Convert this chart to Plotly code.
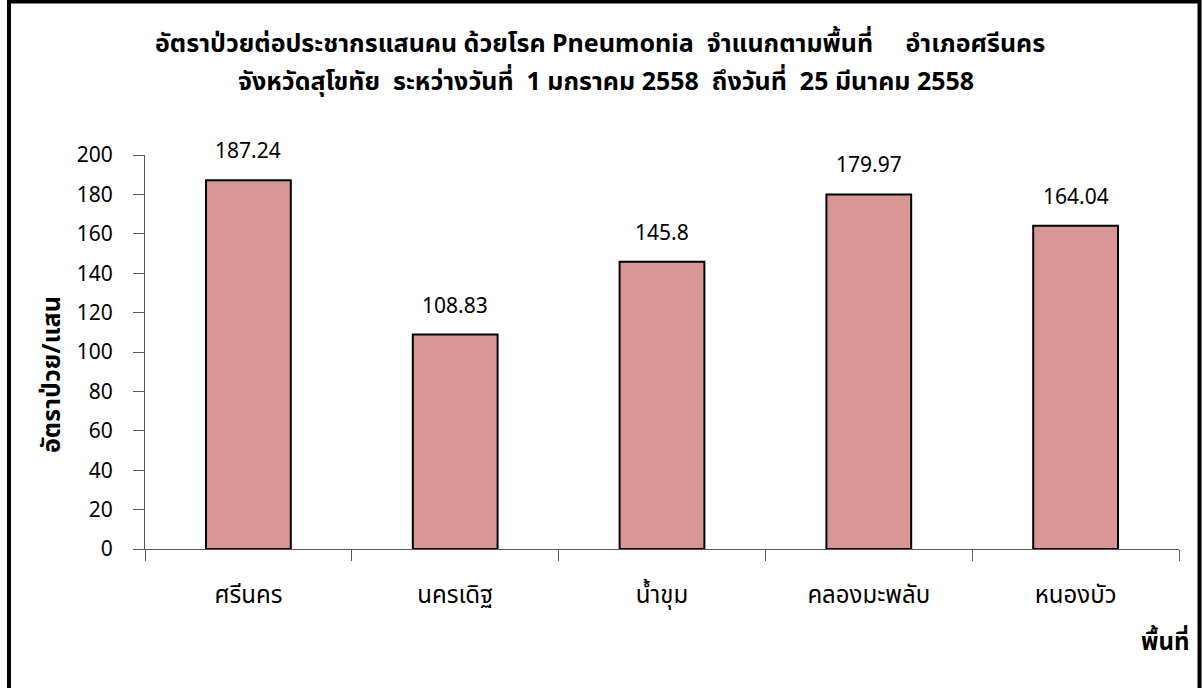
import plotly.graph_objects as go

categories = ["ศรีนคร", "นครเดิฐ", "น้ำขุม", "คลองมะพลับ", "หนองบัว"]
rates = [187.24, 108.83, 145.8, 179.97, 164.04]
rate_labels = ["187.24", "108.83", "145.8", "179.97", "164.04"]
y_ticks = [0, 20, 40, 60, 80, 100, 120, 140, 160, 180, 200]

title_line1 = "อัตราป่วยต่อประชากรแสนคน ด้วยโรค Pneumonia  จำแนกตามพื้นที่     อำเภอศรีนคร"
title_line2 = "จังหวัดสุโขทัย  ระหว่างวันที่  1 มกราคม 2558  ถึงวันที่  25 มีนาคม 2558"
y_title = "อัตราป่วย/แสน"
x_title = "พื้นที่"

FONT = "Noto Sans, Noto Sans Thai, Tahoma, sans-serif"

fig = go.Figure()
fig.add_trace(go.Bar(
    x=categories, y=rates, width=0.41,
    marker=dict(color="#D99694", line=dict(color="black", width=2)),
    hoverinfo="x+y",
))

for c, v, t in zip(categories, rates, rate_labels):
    fig.add_annotation(x=c, y=v, text=t, showarrow=False, yshift=30,
                       font=dict(size=21, color="black", family=FONT))

L, R, T, B = 145, 24, 155, 139
W, H = 1203, 688
pw, ph = W - L - R, H - T - B

def px(x):
    return (x - L) / pw

def py(y):
    return (H - B - y) / ph

fig.update_layout(
    width=W, height=H,
    margin=dict(l=L, r=R, t=T, b=B),
    paper_bgcolor="white", plot_bgcolor="white",
    showlegend=False,
    font=dict(family=FONT, size=20, color="black"),
    xaxis=dict(
        showline=True, linecolor="#595959", linewidth=1,
        ticks="outside", tickson="boundaries", ticklen=11, tickcolor="#595959",
        ticklabelstandoff=24,
        tickfont=dict(size=24, family=FONT, color="black"),
        showgrid=False, zeroline=False,
    ),
    yaxis=dict(
        range=[0, 200], tickvals=y_ticks,
        showline=True, linecolor="#595959", linewidth=1,
        ticks="outside", ticklen=11, tickcolor="#595959",
        ticklabelstandoff=16,
        tickfont=dict(size=21, family=FONT, color="black"),
        showgrid=False, zeroline=False,
    ),
    bargap=0.59,
)

fig.add_annotation(xref="paper", yref="paper", x=px(600), y=py(42),
                   xanchor="center", yanchor="middle", showarrow=False,
                   text="<b>" + title_line1 + "</b>",
                   font=dict(size=25, family=FONT, color="black"))
fig.add_annotation(xref="paper", yref="paper", x=px(606), y=py(80),
                   xanchor="center", yanchor="middle", showarrow=False,
                   text="<b>" + title_line2 + "</b>",
                   font=dict(size=25, family=FONT, color="black"))
fig.add_annotation(xref="paper", yref="paper", x=px(50), y=py(375),
                   xanchor="center", yanchor="middle", showarrow=False, textangle=-90,
                   text="<b>" + y_title + "</b>",
                   font=dict(size=25, family=FONT, color="black"))
fig.add_annotation(xref="paper", yref="paper", x=px(1191), y=py(640),
                   xanchor="right", yanchor="middle", showarrow=False,
                   text="<b>" + x_title + "</b>",
                   font=dict(size=24, family=FONT, color="black"))

fig.add_shape(type="rect", xref="paper", yref="paper",
              x0=px(9), x1=px(1199.5), y0=py(700), y1=py(1.5),
              line=dict(color="black", width=4), fillcolor="rgba(0,0,0,0)", layer="above")

fig.write_html("out.html", config={"displayModeBar": False},
               post_script="document.body.style.margin='0';")
